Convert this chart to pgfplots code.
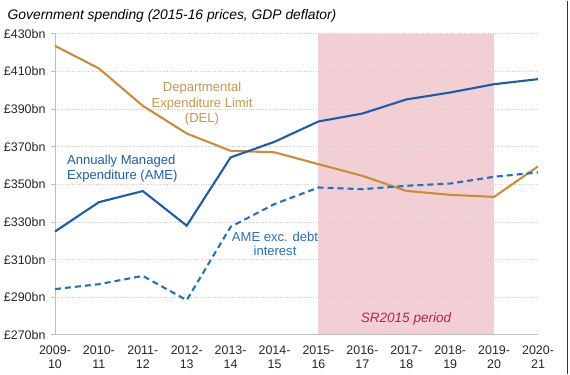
\documentclass[border=0pt]{standalone}
\usepackage{fontspec}
\setmainfont{Liberation Sans}
\usepackage{pgfplots}
\pgfplotsset{compat=1.18}
\definecolor{delc}{RGB}{200,140,62}
\definecolor{deltxt}{RGB}{200,150,80}
\definecolor{amec}{RGB}{31,92,168}
\definecolor{exc}{RGB}{40,110,185}
\definecolor{srtxt}{RGB}{178,40,72}
\definecolor{shade}{RGB}{242,207,212}
\definecolor{gridc}{RGB}{205,205,205}
\definecolor{axc}{RGB}{190,190,190}
\begin{document}
\begin{tikzpicture}
\begin{axis}[
  set layers,
  at={(55bp,39bp)}, anchor=south west,
  scale only axis, width=483bp, height=301bp,
  xmin=0, xmax=11, ymin=270, ymax=430,
  axis x line*=bottom, axis y line*=left,
  axis line style={axc, line width=0.8bp, -},
  ytick={270,290,...,430},
  yticklabels={£270bn,£290bn,£310bn,£330bn,£350bn,£370bn,£390bn,£410bn,£430bn},
  xtick={0,...,11},
  xticklabels={{2009-\\10},{2010-\\11},{2011-\\12},{2012-\\13},{2013-\\14},{2014-\\15},{2015-\\16},{2016-\\17},{2017-\\18},{2018-\\19},{2019-\\20},{2020-\\21}},
  x tick label style={align=center, font=\fontsize{12.5}{14.5}\selectfont, text=black!85, yshift=-3bp},
  y tick label style={font=\fontsize{12.5}{14.5}\selectfont, text=black!85, xshift=-2bp},
  ymajorgrids, grid style={gridc, dotted, line width=0.8bp},
  xtick style={draw=none},
  ytick style={axc, line width=0.8bp},
  tick align=outside, major tick length=4bp,
  extra x ticks={0,2,4,6,8,10}, extra x tick labels={},
  extra x tick style={grid=none, tick align=inside, major tick length=4bp, tick style={draw=axc, line width=0.8bp}},
  clip=false,
]
\addplot[fill=shade, draw=none, on layer=axis background] coordinates {(6,270) (10,270) (10,430) (6,430)};
\addplot[delc, line width=2.1bp] coordinates {
(0,423.6) (1,411.6) (2,391.7) (3,377.0) (4,367.8) (5,367.0) (6,360.7) (7,354.5) (8,346.5) (9,344.4) (10,343.3) (11,359.5)};
\addplot[amec, line width=2.1bp] coordinates {
(0,324.9) (1,340.5) (2,346.4) (3,328.0) (4,364.3) (5,372.6) (6,383.4) (7,387.6) (8,395.1) (9,398.8) (10,403.2) (11,405.9)};
\addplot[exc, line width=2.1bp, dash pattern=on 6bp off 4bp] coordinates {
(0,294.3) (1,296.9) (2,301.3) (3,288.4) (4,327.4) (5,339.5) (6,348.3) (7,347.4) (8,349.2) (9,350.4) (10,354.0) (11,356.3)};
\end{axis}
\node[anchor=west, font=\fontsize{13.9}{16}\selectfont\itshape, inner sep=0] at (7.5bp,358bp) {Government spending (2015-16 prices, GDP deflator)};
\node[align=center, text=deltxt, font=\fontsize{13.1}{15.5}\selectfont, inner sep=0] at (202bp,270bp) {Departmental\\Expenditure Limit\\(DEL)};
\node[align=left, anchor=west, text=amec, font=\fontsize{13.1}{14.5}\selectfont, inner sep=0] at (67bp,205bp) {Annually Managed\\Expenditure (AME)};
\node[align=center, text=exc, font=\fontsize{13.1}{14}\selectfont, inner sep=0] at (275bp,129.5bp) {AME exc. debt\\interest};
\node[text=srtxt, font=\fontsize{13.6}{15}\selectfont\itshape, inner sep=0] at (406bp,55bp) {SR2015 period};
\draw[black!80, line width=1.6bp] (567.6bp,0bp) -- (567.6bp,373bp);
\path (0bp,0bp) rectangle (570bp,373bp);
\end{tikzpicture}
\end{document}
